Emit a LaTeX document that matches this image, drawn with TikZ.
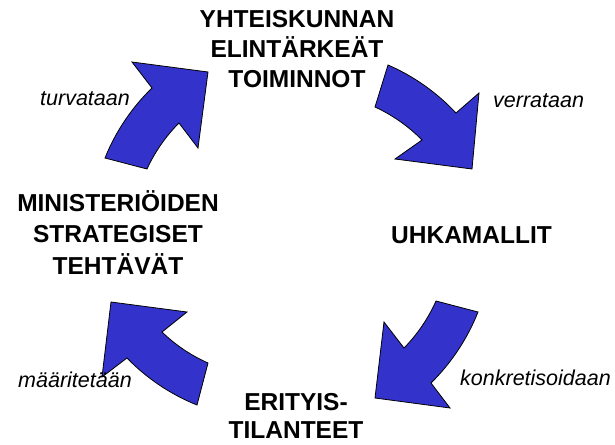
\documentclass[tikz,border=0pt]{standalone}
\usepackage{fontspec}
\setmainfont{Liberation Sans}
\definecolor{arrowblue}{RGB}{51,51,204}
\begin{document}
\begin{tikzpicture}[x=1pt,y=1pt,yscale=-1,
  blockarrow/.style={draw=black,fill=arrowblue,line width=0.8pt,line join=miter},
  stage/.style={font=\fontsize{24.5}{30}\selectfont\bfseries,align=center,inner sep=0pt},
  verb/.style={font=\fontsize{21.5}{26}\selectfont\itshape,inner sep=0pt,anchor=base west}]
\useasboundingbox (0,0) rectangle (615,444);
\draw [blockarrow] (105,158) -- (147,169) .. controls (154.8,152) and (165.8,136.2) .. (179,123) -- (198,148) -- (208,72) -- (132,62) -- (152,88) .. controls (131.8,107.5) and (115.4,131.9) .. (105,158) -- cycle;
\draw [blockarrow] (388,65) .. controls (413.5,76) and (437.1,92.7) .. (456,113) -- (479,93) -- (472,169) -- (395,159) -- (422,140) .. controls (408.6,126.4) and (392.4,115) .. (375,107) -- cycle;
\draw [blockarrow] (436,301) -- (478,312) .. controls (467.6,338.4) and (451.3,363.1) .. (431,383) -- (450,408) -- (375,398) -- (384,322) -- (404,348) .. controls (417.3,334.5) and (428.3,318.3) .. (436,301) -- cycle;
\draw [blockarrow] (197,405) -- (208,363) .. controls (191.1,355.5) and (175.3,344.9) .. (162,332) -- (187,312) -- (111,302) -- (102,377) -- (127,358) .. controls (146.5,378.2) and (170.9,394.6) .. (197,405) -- cycle;
\node [stage,anchor=north] (toiminnot) at (297,10.5) {YHTEISKUNNAN\\ELINTÄRKEÄT\\TOIMINNOT};
\node [stage,anchor=north,font=\fontsize{24.5}{31.5}\selectfont\bfseries] (ministeriot) at (118,190) {MINISTERIÖIDEN\\STRATEGISET\\TEHTÄVÄT};
\node [stage,anchor=base] (uhkamallit) at (471.5,243) {UHKAMALLIT};
\node [stage,anchor=north,font=\fontsize{24.5}{28}\selectfont\bfseries] (erityis) at (296,393) {ERITYIS-\\TILANTEET};
\node [verb] (turvataan) at (40,105) {turvataan};
\node [verb] (verrataan) at (493,107) {verrataan};
\node [verb] (maaritetaan) at (18,387) {määritetään};
\node [verb] (konkretisoidaan) at (460,385) {konkretisoidaan};
\end{tikzpicture}
\end{document}
